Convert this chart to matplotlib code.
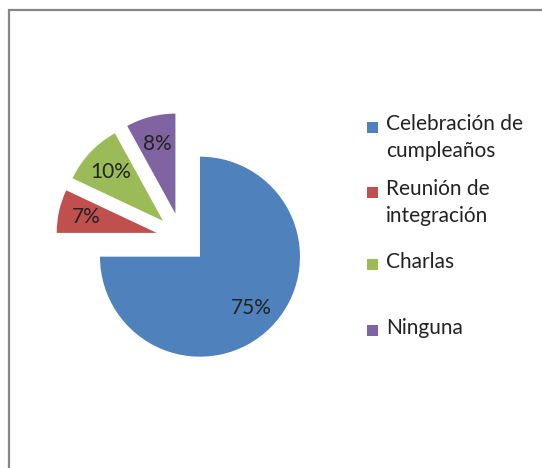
import matplotlib
matplotlib.use("Agg")
import matplotlib.pyplot as plt
from matplotlib.patches import Rectangle

# data
categories = ["Celebración de\ncumpleaños", "Reunión de\nintegración", "Charlas", "Ninguna"]
percentages = [75, 7, 10, 8]
colors = ["#4F81BD", "#C0504D", "#9BBB59", "#8064A2"]

W, H = 542, 468
plt.rcParams['font.family'] = ['Lato', 'DejaVu Sans']

fig = plt.figure(figsize=(W / 100, H / 100), dpi=100)
ax = fig.add_axes([0, 0, 1, 1])

# pie geometry in pixel units (y up)
cx, cy = 181.8, H - 238.5
radius = 100
explode = [25.7] * len(percentages)

wedges, texts, autotexts = ax.pie(percentages, colors=colors, explode=explode,
                                  center=(cx, cy), radius=radius,
                                  startangle=90, counterclock=False,
                                  autopct='%1.0f%%', pctdistance=0.72,
                                  wedgeprops=dict(linewidth=0))
for t in autotexts:
    t.set_fontsize(15)
    t.set_color("#222222")

ax.set_xlim(0, W)
ax.set_ylim(0, H)
ax.set_aspect('equal')
ax.axis('off')

# legend drawn by hand so markers line up with the first text line
leg_rows = [125, 190, 262, 328]
for lab, col, ytop in zip(categories, colors, leg_rows):
    ax.add_patch(Rectangle((367, H - ytop - 2 - 5.5), 11, 11, color=col, linewidth=0))
    nlines = lab.count("\n") + 1
    ymid = ytop + 12.5 * (nlines - 1)
    ax.text(386, H - ymid, lab, fontsize=15, color="#222222",
            va='center', ha='left', linespacing=1.45)

# grey chart frame, cut off at right and bottom
ax.add_patch(Rectangle((8.5, -20), W + 40, H - 9.5 + 20, fill=False,
                       edgecolor="#868686", linewidth=1.6, clip_on=False))

fig.savefig("out.png", dpi=100, facecolor="white")
